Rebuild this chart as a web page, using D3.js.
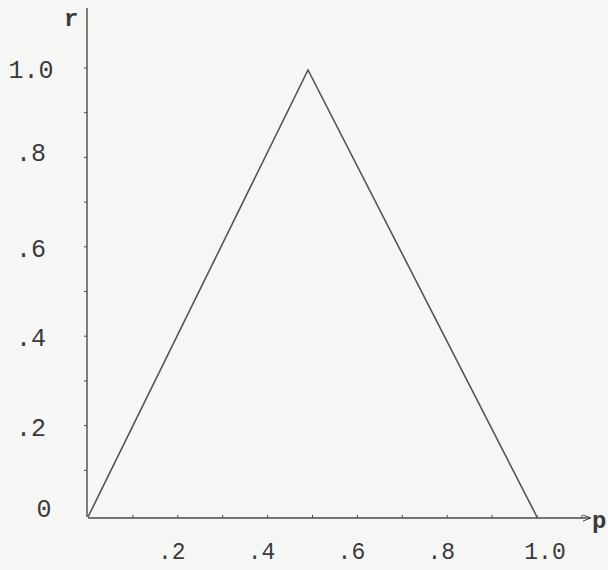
<!DOCTYPE html>
<html lang="en">
<head>
<meta charset="UTF-8">
<title>r vs p</title>
<script src="https://cdnjs.cloudflare.com/ajax/libs/d3/7.8.5/d3.min.js"></script>
<style>
  body { margin: 0; background: #f6f6f5; }
  svg { display: block; }
  text { font-family: 'Liberation Mono', 'DejaVu Sans Mono', monospace; fill: #3a3a3a; }
</style>
</head>
<body>
<svg id="chart" width="608" height="570"></svg>
<script>
// triangle curve r(p)
const pValues = [0, 0.49, 1.0];
const rValues = [0, 1.0, 0];

const xTickValues = [0.2, 0.4, 0.6, 0.8, 1.0];
const xTickLabels = [".2", ".4", ".6", ".8", "1.0"];
const yTickValues = [0, 0.2, 0.4, 0.6, 0.8, 1.0];
const yTickLabels = ["0", ".2", ".4", ".6", ".8", "1.0"];
const minorTicks = [0.1, 0.2, 0.3, 0.4, 0.5, 0.6, 0.7, 0.8, 0.9, 1.0, 1.1];

const svg = d3.select("#chart");
const x = d3.scaleLinear().domain([0, 1]).range([88, 537]);
const y = d3.scaleLinear().domain([0, 1]).range([517, 70]);

const ink = "#4a4a4a";

// y axis line
svg.append("line")
  .attr("x1", x(0) - 1).attr("x2", x(0) - 1)
  .attr("y1", y(0)).attr("y2", 8)
  .attr("stroke", ink).attr("stroke-width", 1.4);

// x axis line
svg.append("line")
  .attr("x1", x(0)).attr("x2", 590)
  .attr("y1", y(0) + 1).attr("y2", y(0) + 1)
  .attr("stroke", ink).attr("stroke-width", 1.4);

// small tick marks
svg.selectAll(".ytick")
  .data(minorTicks.filter(d => d <= 1.0))
  .join("line")
  .attr("x1", x(0) - 4).attr("x2", x(0) - 1)
  .attr("y1", d => y(d) - 2).attr("y2", d => y(d) - 2)
  .attr("stroke", ink).attr("stroke-width", 1);

svg.selectAll(".xtick")
  .data(minorTicks)
  .join("line")
  .attr("x1", d => x(d)).attr("x2", d => x(d))
  .attr("y1", y(0) - 2).attr("y2", y(0) + 1)
  .attr("stroke", ink).attr("stroke-width", 1);

// arrow tip on x axis
svg.append("path")
  .attr("d", `M583,${y(0) - 2} L591,${y(0) + 1} L583,${y(0) + 4}`)
  .attr("fill", "none").attr("stroke", ink).attr("stroke-width", 1);

// curve
const line = d3.line().x(d => x(d)).y((d, i) => y(rValues[i]));
svg.append("path")
  .datum(pValues)
  .attr("d", line)
  .attr("fill", "none")
  .attr("stroke", "#555")
  .attr("stroke-width", 1.6);

// tick labels
svg.selectAll(".xlab")
  .data(xTickValues)
  .join("text")
  .attr("x", (d, i) => x(d) - 6 + (i === 4 ? 14 : 0))
  .attr("y", 559)
  .attr("text-anchor", "middle")
  .attr("font-size", 23)
  .text((d, i) => xTickLabels[i]);

svg.selectAll(".ylab")
  .data(yTickValues)
  .join("text")
  .attr("x", d => d === 0 ? 44 : 31)
  .attr("y", d => y(d) + 8 - (d === 0 ? 8 : 0) + (d === 0.8 ? -6 : 0))
  .attr("text-anchor", "middle")
  .attr("font-size", 25)
  .text((d, i) => yTickLabels[i]);

// axis names
svg.append("text").attr("x", 64).attr("y", 26)
  .attr("font-size", 24).attr("font-weight", "bold").text("r");
svg.append("text").attr("x", 592).attr("y", 528)
  .attr("font-size", 24).attr("font-weight", "bold").text("p");
</script>
</body>
</html>
